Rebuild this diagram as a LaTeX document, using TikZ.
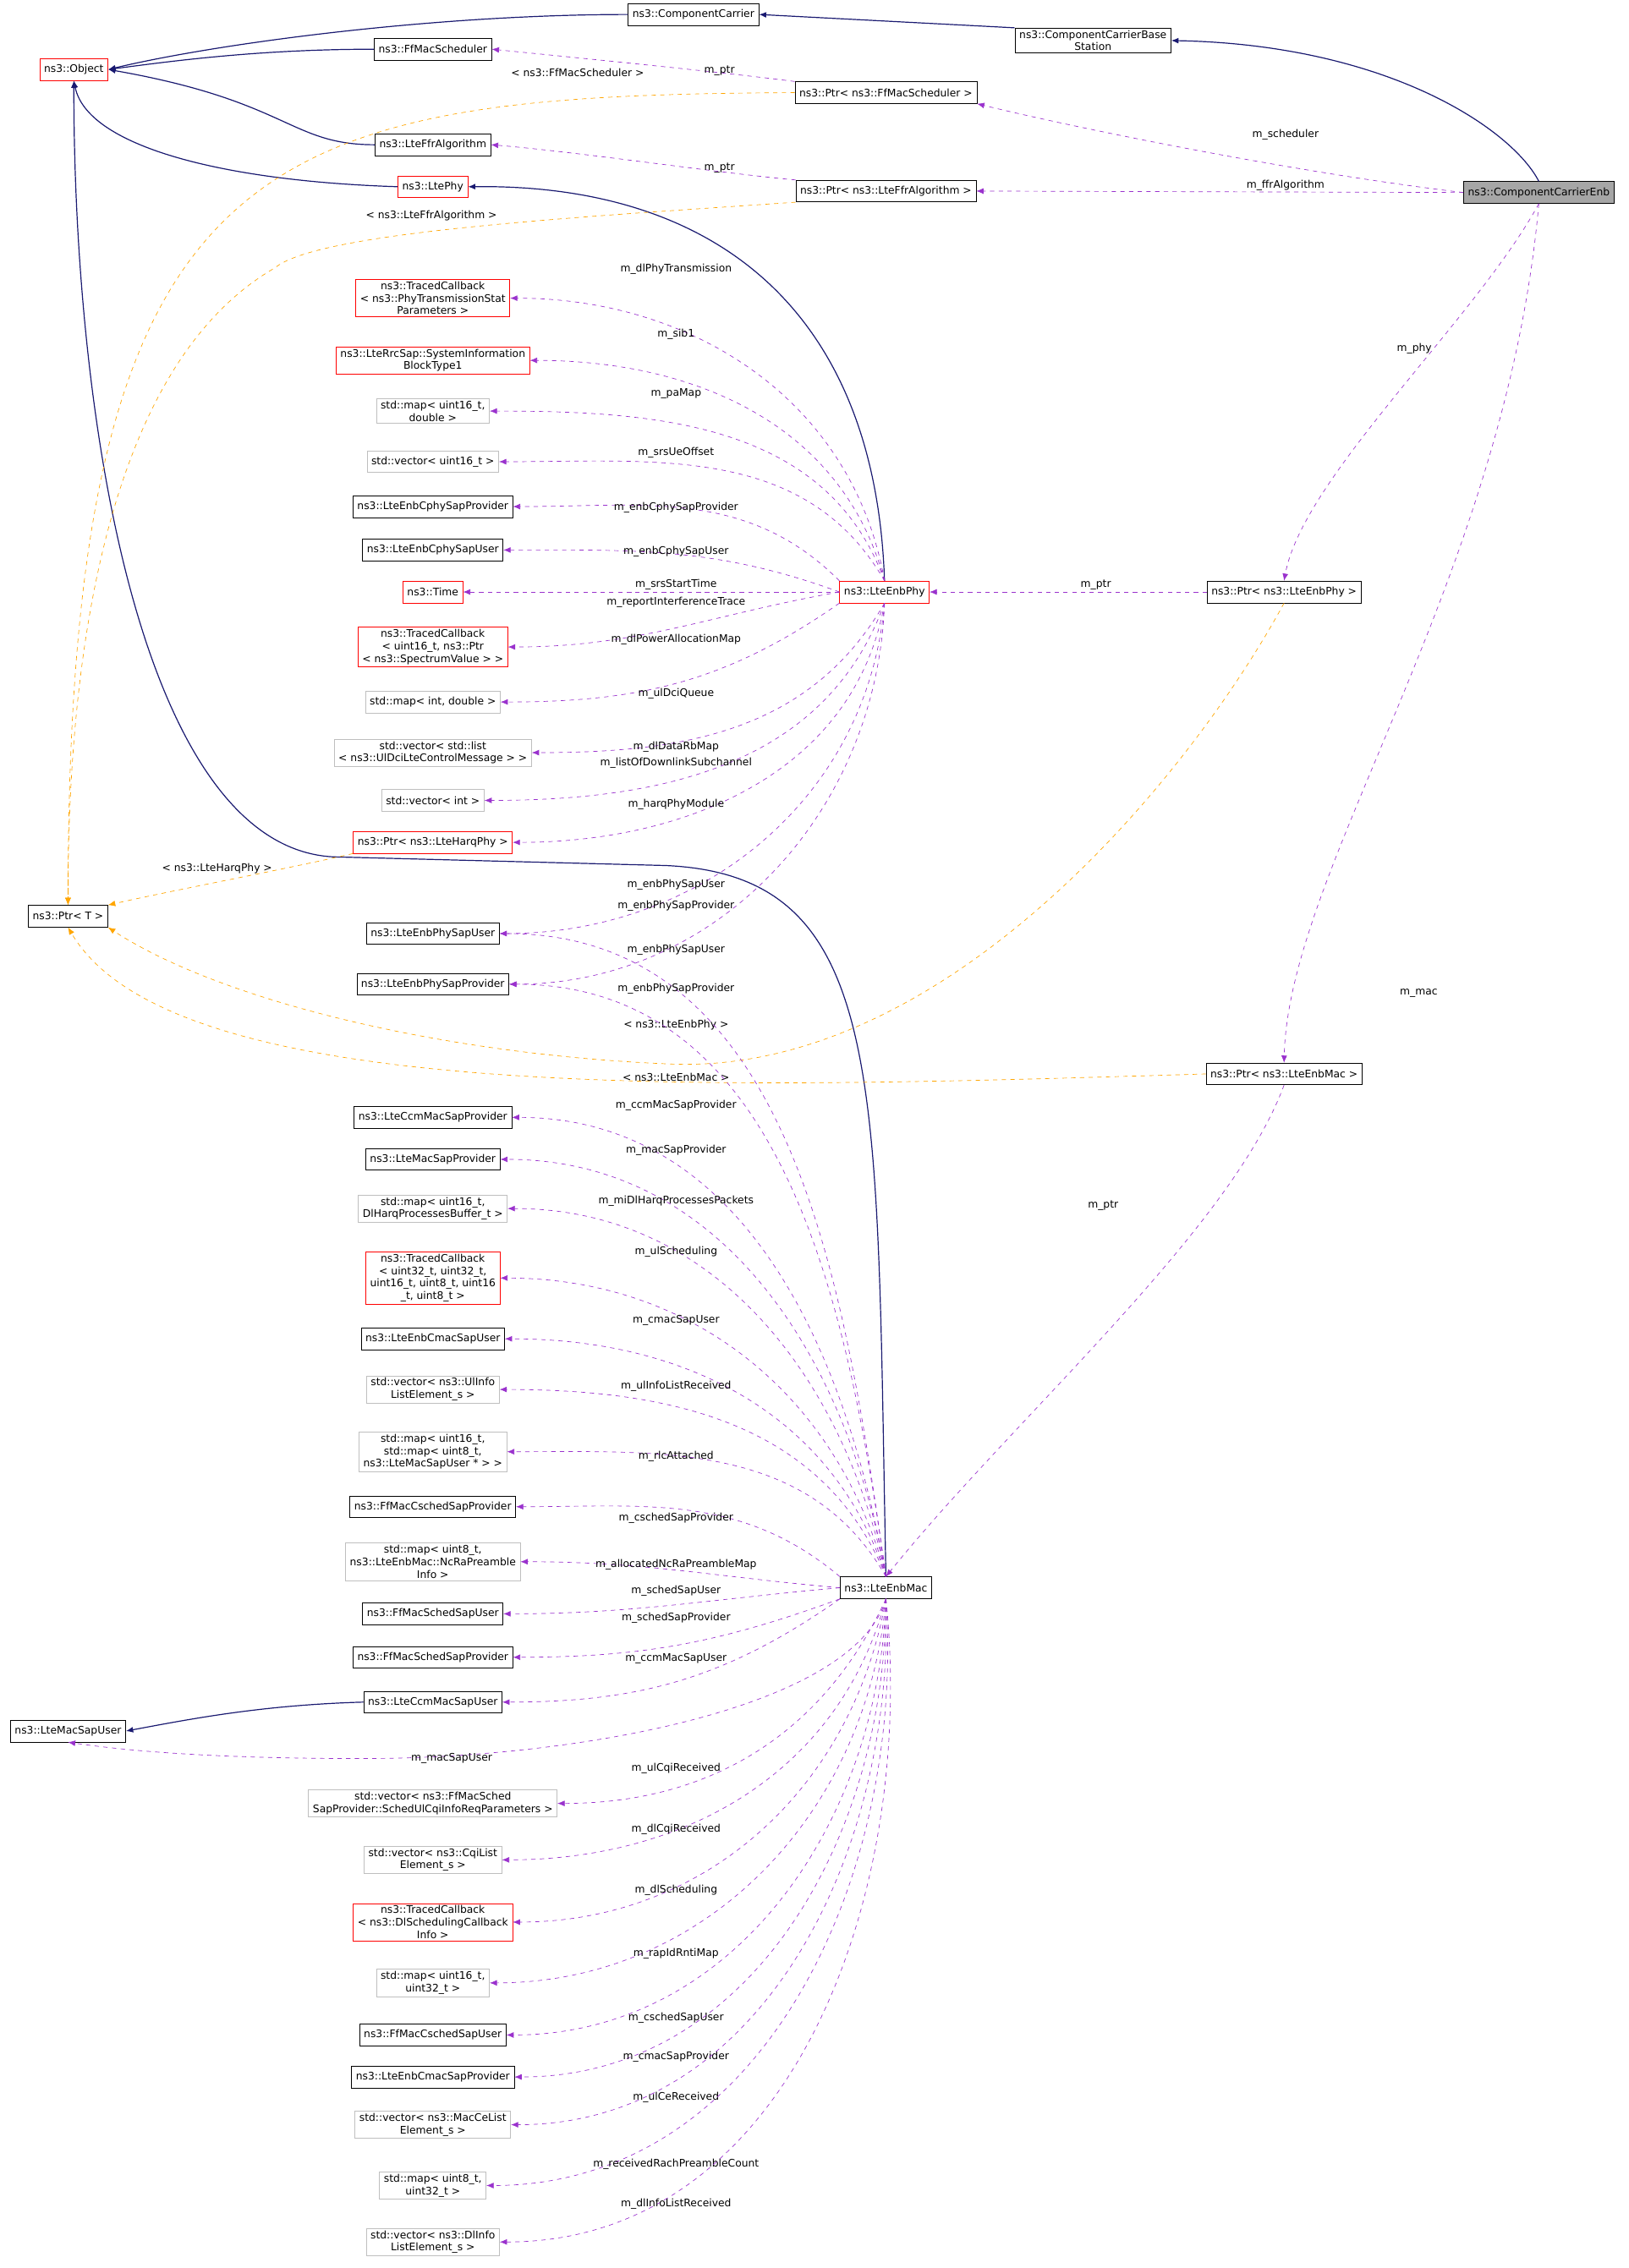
\documentclass[tikz,border=0pt]{standalone}
\usepackage{fontspec}
\setmainfont{DejaVu Sans}
\usetikzlibrary{arrows.meta}
\tikzset{>={Latex[width=4pt,length=5pt]}}
\definecolor{navyline}{HTML}{191970}
\definecolor{useline}{HTML}{9A32CD}
\definecolor{tmplline}{HTML}{FFA500}

\newcommand{\useedge}[6]{\draw[uses] (#1) to[out=#3,in=0] (#2.east); \node[labelnode] at (#5,#6) {#4};}

\begin{document}
\begin{tikzpicture}[x=1pt,y=-1pt,
  classnode/.style={draw=black, fill=white, align=center, inner xsep=3pt, inner ysep=1.5pt, minimum height=15pt, font=\fontsize{7.2}{8.6}\selectfont},
  rednode/.style={classnode, draw=red},
  graynode/.style={classnode, draw=black!25},
  focusnode/.style={classnode, fill=black!35},
  labelnode/.style={font=\fontsize{7.2}{8.6}\selectfont, inner sep=0pt},
  inherit/.style={->, navyline, line width=0.7pt},
  uses/.style={->, useline, dashed},
  tmpl/.style={->, tmplline, dashed}]
    \useasboundingbox (0,0) rectangle (1125,1567);

    %Nodes
    \node[focusnode](cce) at (1063,133){ns3::ComponentCarrierEnb};
    \node[classnode](ccbs) at (755,28){ns3::ComponentCarrierBase\\Station};
    \node[classnode](cc) at (479,10){ns3::ComponentCarrier};
    \node[rednode](obj) at (51,48){ns3::Object};
    \node[classnode](sched) at (299,34){ns3::FfMacScheduler};
    \node[classnode](ptrsched) at (612,64){ns3::Ptr< ns3::FfMacScheduler >};
    \node[classnode](ffr) at (299,100){ns3::LteFfrAlgorithm};
    \node[classnode](ptrffr) at (612,132){ns3::Ptr< ns3::LteFfrAlgorithm >};
    \node[rednode](ltephy) at (299,129){ns3::LtePhy};
    \node[rednode](enbphy) at (611,409){ns3::LteEnbPhy};
    \node[classnode](ptrphy) at (887,409){ns3::Ptr< ns3::LteEnbPhy >};
    \node[classnode](ptrmac) at (887,742){ns3::Ptr< ns3::LteEnbMac >};
    \node[classnode](mac) at (612,1097){ns3::LteEnbMac};
    \node[classnode](ptrt) at (47,633){ns3::Ptr< T >};
    \node[classnode](macsapuser) at (47,1196){ns3::LteMacSapUser};

    \node[rednode](phytx) at (299,206){ns3::TracedCallback\\< ns3::PhyTransmissionStat\\Parameters >};
    \node[rednode](sib) at (299,249){ns3::LteRrcSap::SystemInformation\\BlockType1};
    \node[graynode](pamap) at (299,284){std::map< uint16\_t,\\double >};
    \node[graynode](srsvec) at (299,319){std::vector< uint16\_t >};
    \node[classnode](cphyprov) at (299,350){ns3::LteEnbCphySapProvider};
    \node[classnode](cphyuser) at (299,380){ns3::LteEnbCphySapUser};
    \node[rednode](time) at (299,409){ns3::Time};
    \node[rednode](spectrum) at (299,447){ns3::TracedCallback\\< uint16\_t, ns3::Ptr\\< ns3::SpectrumValue > >};
    \node[graynode](intmap) at (299,485){std::map< int, double >};
    \node[graynode](dcivec) at (299,520){std::vector< std::list\\< ns3::UlDciLteControlMessage > >};
    \node[graynode](intvec) at (299,553){std::vector< int >};
    \node[rednode](ptrharq) at (299,582){ns3::Ptr< ns3::LteHarqPhy >};
    \node[classnode](physapuser) at (299,645){ns3::LteEnbPhySapUser};
    \node[classnode](physapprov) at (299,680){ns3::LteEnbPhySapProvider};

    \node[classnode](ccmprov) at (299,772){ns3::LteCcmMacSapProvider};
    \node[classnode](macsapprov) at (299,801){ns3::LteMacSapProvider};
    \node[graynode](harqmap) at (299,835){std::map< uint16\_t,\\DlHarqProcessesBuffer\_t >};
    \node[rednode](ulsched) at (299,883){ns3::TracedCallback\\< uint32\_t, uint32\_t,\\uint16\_t, uint8\_t, uint16\\\_t, uint8\_t >};
    \node[classnode](cmacuser) at (299,925){ns3::LteEnbCmacSapUser};
    \node[graynode](ulinfo) at (299,960){std::vector< ns3::UlInfo\\ListElement\_s >};
    \node[graynode](rlcmap) at (299,1003){std::map< uint16\_t,\\std::map< uint8\_t,\\ns3::LteMacSapUser * > >};
    \node[classnode](cschedprov) at (299,1041){ns3::FfMacCschedSapProvider};
    \node[graynode](ncramap) at (299,1079){std::map< uint8\_t,\\ns3::LteEnbMac::NcRaPreamble\\Info >};
    \node[classnode](schedsapuser) at (299,1115){ns3::FfMacSchedSapUser};
    \node[classnode](schedsapprov) at (299,1145){ns3::FfMacSchedSapProvider};
    \node[classnode](ccmuser) at (299,1176){ns3::LteCcmMacSapUser};
    \node[graynode](ulcqi) at (299,1246){std::vector< ns3::FfMacSched\\SapProvider::SchedUlCqiInfoReqParameters >};
    \node[graynode](cqilist) at (299,1285){std::vector< ns3::CqiList\\Element\_s >};
    \node[rednode](dlsched) at (299,1328){ns3::TracedCallback\\< ns3::DlSchedulingCallback\\Info >};
    \node[graynode](rapidmap) at (299,1370){std::map< uint16\_t,\\uint32\_t >};
    \node[classnode](cscheduser) at (299,1406){ns3::FfMacCschedSapUser};
    \node[classnode](cmacprov) at (299,1435){ns3::LteEnbCmacSapProvider};
    \node[graynode](macce) at (299,1468){std::vector< ns3::MacCeList\\Element\_s >};
    \node[graynode](rachmap) at (299,1510){std::map< uint8\_t,\\uint32\_t >};
    \node[graynode](dlinfo) at (299,1549){std::vector< ns3::DlInfo\\ListElement\_s >};

    %Inheritance lines
    \draw[inherit] (cce.north) .. controls (1045,90) and (960,31) .. (ccbs.east);
    \draw[inherit] (ccbs.north west) -- (cc.east);
    \draw[inherit] (cc.west) .. controls (300,10) and (150,30) .. (obj.east);
    \draw[inherit] (sched.west) .. controls (180,34) and (120,42) .. (obj.east);
    \draw[inherit] (ffr.west) .. controls (200,100) and (200,70) .. (obj.east);
    \draw[inherit] (ltephy.west) .. controls (150,125) and (60,100) .. (obj.south);
    \draw[inherit] (enbphy.north) .. controls (605,220) and (500,127) .. (ltephy.east);
    \draw[inherit] (mac.north) .. controls (605,750) and (615,605) .. (460,598) -- (230,592) .. controls (100,585) and (51,300) .. (obj.south);
    \draw[inherit] (ccmuser.west) .. controls (180,1178) and (130,1188) .. (macsapuser.east);

    %Member lines of the carrier and the pointers
    \draw[uses] (cce.west) .. controls (900,120) and (750,90) .. (ptrsched.south east);
    \node[labelnode] at (888,93){m\_scheduler};
    \draw[uses] (cce.west) -- (ptrffr.east);
    \node[labelnode] at (888,128){m\_ffrAlgorithm};
    \draw[uses] (cce.south) .. controls (1020,220) and (900,330) .. (ptrphy.north);
    \node[labelnode] at (977,241){m\_phy};
    \draw[uses] (cce.south) .. controls (1040,400) and (890,600) .. (ptrmac.north);
    \node[labelnode] at (980,686){m\_mac};
    \draw[uses] (ptrsched.north west) .. controls (500,50) and (400,40) .. (sched.east);
    \node[labelnode] at (497,49){m\_ptr};
    \draw[uses] (ptrffr.north west) .. controls (500,120) and (400,105) .. (ffr.east);
    \node[labelnode] at (497,116){m\_ptr};
    \draw[uses] (ptrphy.west) -- (enbphy.east);
    \node[labelnode] at (757,404){m\_ptr};
    \draw[uses] (ptrmac.south) .. controls (850,850) and (700,980) .. (mac.north);
    \node[labelnode] at (762,833){m\_ptr};

    %Template lines
    \draw[tmpl] (ptrsched.west) .. controls (180,66) and (47,100) .. (ptrt.north);
    \node[labelnode] at (399,50){< ns3::FfMacScheduler >};
    \draw[tmpl] (ptrffr.south west) .. controls (400,150) and (220,160) .. (190,185) .. controls (60,260) and (47,500) .. (ptrt.north);
    \node[labelnode] at (298,149){< ns3::LteFfrAlgorithm >};
    \draw[tmpl] (ptrharq.south west) .. controls (200,600) and (120,615) .. (ptrt.north east);
    \node[labelnode] at (150,600){< ns3::LteHarqPhy >};
    \draw[tmpl] (ptrphy.south) .. controls (820,540) and (650,745) .. (460,735) .. controls (300,728) and (150,690) .. (ptrt.south east);
    \node[labelnode] at (467,708){< ns3::LteEnbPhy >};
    \draw[tmpl] (ptrmac.west) .. controls (500,752) and (120,765) .. (ptrt.south);
    \node[labelnode] at (467,744){< ns3::LteEnbMac >};

    %Member lines of LteEnbPhy
    \useedge{enbphy.north}{phytx}{100}{m\_dlPhyTransmission}{467}{186}
    \useedge{enbphy.north}{sib}{105}{m\_sib1}{467}{231}
    \useedge{enbphy.north}{pamap}{110}{m\_paMap}{467}{272}
    \useedge{enbphy.north}{srsvec}{120}{m\_srsUeOffset}{467}{313}
    \useedge{enbphy.north west}{cphyprov}{135}{m\_enbCphySapProvider}{467}{351}
    \useedge{enbphy.west}{cphyuser}{160}{m\_enbCphySapUser}{467}{381}
    \useedge{enbphy.west}{time}{180}{m\_srsStartTime}{467}{404}
    \useedge{enbphy.west}{spectrum}{190}{m\_reportInterferenceTrace}{467}{416}
    \useedge{enbphy.south west}{intmap}{215}{m\_dlPowerAllocationMap}{467}{442}
    \useedge{enbphy.south}{dcivec}{240}{m\_ulDciQueue}{467}{479}
    \useedge{enbphy.south}{intvec}{250}{m\_dlDataRbMap}{467}{516}
    \node[labelnode] at (467,527){m\_listOfDownlinkSubchannel};
    \useedge{enbphy.south}{ptrharq}{260}{m\_harqPhyModule}{467}{556}
    \useedge{enbphy.south}{physapuser}{265}{m\_enbPhySapUser}{467}{611}
    \useedge{enbphy.south}{physapprov}{268}{m\_enbPhySapProvider}{467}{626}

    %Member lines of LteEnbMac
    \useedge{mac.north}{physapuser}{98}{m\_enbPhySapUser}{467}{656}
    \useedge{mac.north}{physapprov}{98}{m\_enbPhySapProvider}{467}{683}
    \useedge{mac.north}{ccmprov}{100}{m\_ccmMacSapProvider}{467}{764}
    \useedge{mac.north}{macsapprov}{100}{m\_macSapProvider}{467}{795}
    \useedge{mac.north}{harqmap}{102}{m\_miDlHarqProcessesPackets}{467}{830}
    \useedge{mac.north}{ulsched}{105}{m\_ulScheduling}{467}{865}
    \useedge{mac.north}{cmacuser}{108}{m\_cmacSapUser}{467}{912}
    \useedge{mac.north}{ulinfo}{112}{m\_ulInfoListReceived}{467}{958}
    \useedge{mac.north}{rlcmap}{120}{m\_rlcAttached}{467}{1006}
    \useedge{mac.north west}{cschedprov}{140}{m\_cschedSapProvider}{467}{1049}
    \useedge{mac.west}{ncramap}{175}{m\_allocatedNcRaPreambleMap}{467}{1081}
    \useedge{mac.west}{schedsapuser}{185}{m\_schedSapUser}{467}{1099}
    \useedge{mac.south west}{schedsapprov}{200}{m\_schedSapProvider}{467}{1118}
    \useedge{mac.south west}{ccmuser}{215}{m\_ccmMacSapUser}{467}{1146}
    \draw[uses] (mac.south) .. controls (590,1180) and (400,1215) .. (250,1215) .. controls (150,1215) and (90,1210) .. (macsapuser.south);
    \node[labelnode] at (312,1215){m\_macSapUser};
    \useedge{mac.south}{ulcqi}{245}{m\_ulCqiReceived}{467}{1222}
    \useedge{mac.south}{cqilist}{255}{m\_dlCqiReceived}{467}{1264}
    \useedge{mac.south}{dlsched}{260}{m\_dlScheduling}{467}{1306}
    \useedge{mac.south}{rapidmap}{265}{m\_rapIdRntiMap}{467}{1350}
    \useedge{mac.south}{cscheduser}{268}{m\_cschedSapUser}{467}{1394}
    \useedge{mac.south}{cmacprov}{270}{m\_cmacSapProvider}{467}{1421}
    \useedge{mac.south}{macce}{272}{m\_ulCeReceived}{467}{1449}
    \useedge{mac.south}{rachmap}{274}{m\_receivedRachPreambleCount}{467}{1495}
    \useedge{mac.south}{dlinfo}{276}{m\_dlInfoListReceived}{467}{1523}

\end{tikzpicture}
\end{document}
